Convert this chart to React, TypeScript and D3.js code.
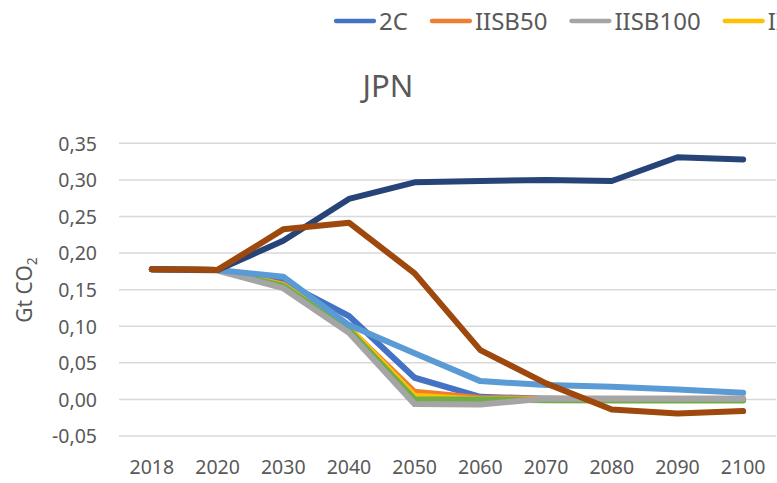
import React, { useEffect, useRef } from "react";
import * as d3 from "d3";

const years = ["2018", "2020", "2030", "2040", "2050", "2060", "2070", "2080", "2090", "2100"];
const yTicks = [-0.05, 0, 0.05, 0.1, 0.15, 0.2, 0.25, 0.3, 0.35];

const s2C = [0.178, 0.177, 0.161, 0.114, 0.0296, 0.0036, 0.001, 0.0, 0.0, 0.0];
const sIISB50 = [0.178, 0.177, 0.157, 0.097, 0.0104, 0.002, 0.001, 0.001, 0.001, 0.001];
const sIISB100 = [0.178, 0.176, 0.152, 0.091, -0.0064, -0.0069, 0.0014, 0.001, 0.001, 0.001];
const sIISB150 = [0.178, 0.177, 0.156, 0.098, 0.005, 0.0, 0.0, 0.0, 0.0, 0.0];
const sIISB200 = [0.178, 0.177, 0.155, 0.095, 0.0, 0.0, -0.001, -0.0015, -0.0015, -0.0015];
const sNDC = [0.178, 0.1768, 0.1676, 0.1016, 0.063, 0.025, 0.0196, 0.0173, 0.0137, 0.009];
const sCPol = [0.178, 0.177, 0.2168, 0.274, 0.2967, 0.2985, 0.3, 0.2985, 0.331, 0.328];
const sRef = [0.178, 0.177, 0.2324, 0.2415, 0.1723, 0.0674, 0.0219, -0.0137, -0.0191, -0.016];

const seriesNames = ["2C", "IISB50", "IISB100", "IISB150", "IISB200", "NDC", "CPol", "Ref"];
const seriesValues = [s2C, sIISB50, sIISB100, sIISB150, sIISB200, sNDC, sCPol, sRef];
const seriesColors = ["#4472C4", "#ED7D31", "#A5A5A5", "#FFC000", "#70AD47", "#5B9BD5", "#264478", "#9E480E"];
// order in which the lines are painted (index into the series arrays)
const drawOrder = [0, 1, 3, 4, 2, 5, 6, 7];

const W = 777;
const H = 483;
const FONT = "'Noto Sans', sans-serif";
const TXT = "#595959";

export default function App() {
  const ref = useRef<SVGSVGElement>(null);

  useEffect(() => {
    const svg = d3.select(ref.current);
    svg.selectAll("*").remove();

    const x = d3.scaleBand<string>().domain(years).range([119, 776]).padding(0);
    const y = d3.scaleLinear().domain([-0.05, 0.35]).range([436, 143.3]);
    const cx = (d: string) => (x(d) as number) + x.bandwidth() / 2;

    // gridlines
    svg
      .append("g")
      .selectAll("line")
      .data(yTicks)
      .join("line")
      .attr("x1", 119)
      .attr("x2", 776)
      .attr("y1", (d) => y(d))
      .attr("y2", (d) => y(d))
      .attr("stroke", "#D9D9D9")
      .attr("stroke-width", 1.5);

    const fmt = (v: number) => d3.format(".2f")(v).replace(".", ",").replace("−", "-");

    // y tick labels
    svg
      .append("g")
      .selectAll("text")
      .data(yTicks)
      .join("text")
      .attr("x", 97)
      .attr("y", (d) => y(d) + 7.3)
      .attr("text-anchor", "end")
      .attr("font-family", FONT)
      .attr("font-size", 19.5)
      .attr("fill", TXT)
      .text((d) => fmt(d));

    // x tick labels
    svg
      .append("g")
      .selectAll("text")
      .data(years)
      .join("text")
      .attr("x", (d) => cx(d))
      .attr("y", 474.3)
      .attr("text-anchor", "middle")
      .attr("font-family", FONT)
      .attr("font-size", 19.5)
      .attr("fill", TXT)
      .text((d) => d);

    // lines
    const line = d3
      .line<number>()
      .x((_, i) => cx(years[i]))
      .y((d) => y(d));

    svg
      .append("g")
      .selectAll("path")
      .data(drawOrder)
      .join("path")
      .attr("d", (k) => line(seriesValues[k]) as string)
      .attr("fill", "none")
      .attr("stroke", (k) => seriesColors[k])
      .attr("stroke-width", 6)
      .attr("stroke-linecap", "round")
      .attr("stroke-linejoin", "round");

    // title
    svg
      .append("text")
      .attr("x", 388)
      .attr("y", 97.3)
      .attr("text-anchor", "middle")
      .attr("font-family", FONT)
      .attr("font-size", 31)
      .attr("fill", TXT)
      .text("JPN");

    // y-axis title
    const yt = svg
      .append("text")
      .attr("transform", "translate(32,290) rotate(-90)")
      .attr("text-anchor", "middle")
      .attr("font-family", FONT)
      .attr("font-size", 21)
      .attr("fill", TXT);
    yt.append("tspan").text("Gt CO");
    yt.append("tspan").attr("font-size", 14).attr("dy", 5).text("2");

    // legend
    const lg = svg.append("g");
    let lx = 334;
    seriesNames.forEach((name, i) => {
      lg.append("line")
        .attr("x1", lx + 2)
        .attr("x2", lx + 40)
        .attr("y1", 21)
        .attr("y2", 21)
        .attr("stroke", seriesColors[i])
        .attr("stroke-width", 4.3)
        .attr("stroke-linecap", "round");
      const t = lg
        .append("text")
        .attr("x", lx + 45)
        .attr("y", 30)
        .attr("font-family", FONT)
        .attr("font-size", 24)
        .attr("fill", TXT)
        .text(name);
      const w = (t.node() as SVGTextElement).getComputedTextLength();
      lx = lx + 45 + w + 22;
    });
  }, []);

  return (
    <svg
      ref={ref}
      width={W}
      height={H}
      style={{ position: "absolute", left: 0, top: 0, background: "#fff" }}
    />
  );
}
